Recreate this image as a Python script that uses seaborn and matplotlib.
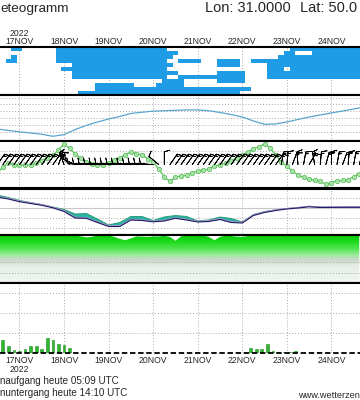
import numpy as np
import pandas as pd
import matplotlib
matplotlib.use("Agg")
import matplotlib.pyplot as plt
import seaborn as sns
from matplotlib.colors import LinearSegmentedColormap, ListedColormap
from matplotlib import font_manager

sns.set_theme(style="white")
_avail = {f.name for f in font_manager.fontManager.ttflist}
NARROW = "Liberation Sans Narrow" if "Liberation Sans Narrow" in _avail else "Liberation Sans"
plt.rcParams["font.family"] = ["Liberation Sans", "DejaVu Sans"]

# ---------------- data ----------------
day_hours = [0, 24, 48, 72, 96, 120, 144, 168]
day_labels = ["17NOV", "18NOV", "19NOV", "20NOV", "21NOV", "22NOV", "23NOV", "24NOV"]
year_label = "2022"

hours3 = list(range(-12, 184, 3))   # 3-hourly steps, hours after 17NOV 00Z
hours6 = list(range(-12, 187, 6))   # 6-hourly steps

# cloud cover cells (row 0 = top level), inclusive column spans on the 3h grid
cloud_spans = [
    [(3, 4), (11, 30), (53, 65)],
    [(11, 32), (52, 53), (57, 65)],
    [(3, 3), (11, 31), (51, 65)],
    [(2, 3), (11, 30), (33, 36), (40, 43), (46, 65)],
    [(14, 31), (40, 43), (49, 65)],
    [(12, 30), (49, 51), (53, 65)],
    [(14, 32), (40, 44), (49, 65)],
    [(14, 30), (33, 44), (49, 65)],
    [(30, 33), (40, 44)],
    [(18, 24), (29, 33)],
    [(18, 45)],
    [(15, 43)],
]

pressure_hpa = [1007.0, 1005.9, 1004.9, 1004.0, 1003.1, 1001.6, 1002.8, 1006.6, 1009.6, 1012.1,
                1014.3, 1016.2, 1018.4, 1019.3, 1020.1, 1020.4, 1020.7, 1021.0, 1021.0, 1020.4,
                1019.1, 1017.6, 1015.8, 1012.9, 1010.4, 1010.7, 1012.1, 1014.0, 1015.8, 1017.3,
                1018.8, 1020.2, 1021.7, 1023.2]

temp_2m = [-2.7, -1.1, -0.2, -0.6, -0.7, -0.7, -0.7, -0.3, 0.3, 0.9,
           1.6, 2.7, 4.1, 3.1, 1.8, 0.9, 0.0, -0.5, -0.7, -0.6,
           -0.2, 0.5, 0.9, 1.7, 2.3, 1.9, 1.6, 0.7, 0.0, -1.6,
           -3.4, -4.4, -3.4, -3.2, -3.0, -2.5, -2.0, -1.9, -1.6, -0.9,
           -0.7, -0.2, 0.2, 1.0, 1.6, 2.3, 3.0, 3.5, 4.1, 3.2,
           1.6, 0.0, -1.0, -2.0, -3.0, -3.5, -3.9, -4.2, -4.4, -5.1,
           -4.7, -4.3, -4.2, -4.0, -3.3, -2.7]

wind_dir = [35, 35, 35, 35, 35, 35, 35, 35, 35, 35, 35,
            20, 340, 315, 295,
            275, 275, 275, 275, 275, 275, 275, 275, 275, 275, 275, 275, 275, 275,
            310, 0,
            35, 35, 35, 35, 35, 35, 35, 35, 35, 35, 35, 35, 35, 35, 35, 35, 35, 35, 35, 35,
            10, 5, 20, 355, 10, 30, 350, 5, 15, 0, 10, 20, 5, 10, 15]
wind_kt = [15, 15, 15, 15, 15, 15, 15, 15, 15, 15, 15,
           15, 15, 15, 15,
           10, 10, 10, 10, 10, 10, 10, 10, 10, 10, 10, 10, 10, 10,
           10, 10,
           15, 15, 15, 15, 15, 15, 15, 15, 15, 15, 15, 15, 15, 15, 15, 15, 15, 15, 15, 15,
           15, 15, 15, 15, 15, 15, 15, 15, 15, 15, 15, 15, 15, 15, 15]

t850_main = [5.65, 4.65, 3.3, 2.4, 1.5, 0.25, -1.6, -4.85, -5.0, -7.1,
             -9.1, -9.1, -5.85, -6.1, -6.75, -6.35, -5.0, -5.85, -6.85, -6.6,
             -5.6, -7.1, -7.35, -3.6, -2.1, -1.1, -0.35, 0.15, 0.75, 0.4,
             0.45, 0.5, 0.5, 0.5]
t850_second = [5.9, 4.9, 3.6, 2.7, 1.8, 0.5, -1.3, -4.6, -4.8, -6.8,
               -8.8, -8.8, -5.6, -5.9, -6.5, -6.1, -4.8, -5.6, -6.6, -6.3,
               -5.3, -6.8, -7.1, -3.3, -1.8, -0.8, -0.1, 0.4, 1.0, 0.6,
               0.7, 0.7, 0.7, 0.7]
t850_upper = [6.65, 5.4, 3.9, 2.9, 1.9, 0.65, -0.6, -2.85, -2.6, -5.35,
              -8.35, -7.1, -4.1, -4.1, -6.1, -4.35, -3.6, -4.1, -6.35, -5.85,
              -4.35, -5.1, -6.85, -3.1, -1.6, -0.75, -0.1, 0.4, 1.0, 0.65,
              0.65, 0.65, 0.65, 0.65]

humidity = [100, 100, 100, 100, 100, 100, 100, 99.5, 100, 100,
            100, 99, 100, 100, 99, 97, 95, 96, 99, 100,
            99, 96, 92, 89, 93, 97, 96.5, 96, 97, 97,
            98, 96, 88, 97, 100, 100, 100, 99, 96, 89,
            96, 99, 98, 96.5, 96, 98, 100, 100, 100, 100,
            100, 100, 100, 100, 100, 100, 100, 100, 100, 100,
            100, 100, 100, 100, 100, 100]

precip_hours = [-9, -6, -3, 0, 3, 6, 9, 12, 15, 18, 21, 24, 27,
                121.5, 124.5, 127.5, 130.5, 133.5, 136.5, 139.5, 142.5, 145.5, 148.5, 161.5]
precip_mm = [0.65, 0.32, 0.12, 0.07, 0.2, 0.32, 0.32, 0.2, 0.75, 0.65, 0.42, 0.37, 0.25,
             0.05, 0.25, 0.17, 0.18, 0.43, 0.07, 0.04, 0.03, 0.03, 0.07, 0.02]

title_left = "eteogramm"
title_lon = "Lon: 31.0000"
title_lat = "Lat: 50.0"
sun_rise = "naufgang heute 05:09 UTC"
sun_set = "nuntergang heute 14:10 UTC"
site = "www.wetterzen"

# ---------------- layout ----------------
W, H = 360, 400
XMIN, XMAX = -10.5, 183.4
GRID = "#a8a8a8"
DOT = (0, (1, 2))

fig = plt.figure(figsize=(3.6, 4.0), dpi=100)
fig.patch.set_facecolor("white")


def panel(top, bottom):
    return fig.add_axes([0, 1 - bottom / H, 1, (bottom - top) / H])


def style(ax, hlines=()):
    ax.set_xlim(XMIN, XMAX)
    ax.set_xlabel("")
    ax.set_ylabel("")
    ax.set_yticks([])
    ax.set_xticks([])
    for s in ("left", "right"):
        ax.spines[s].set_visible(False)
    for s in ("top", "bottom"):
        ax.spines[s].set_color("black")
        ax.spines[s].set_linewidth(1.5)
    for h in day_hours:
        ax.axvline(h, color=GRID, ls=DOT, lw=0.7, zorder=0.5)
    for v in hlines:
        ax.axhline(v, color=GRID, ls=DOT, lw=0.7, zorder=0.5)


ax1 = panel(47, 94.5)
ax2 = panel(94.5, 140.5)
ax3 = panel(140.5, 188.5)
ax4 = panel(188.5, 234.5)
ax5 = panel(234.5, 283)
ax6 = panel(283, 352.5)

# ---- panel 1: clouds ----
mask = np.zeros((12, len(hours3)))
for r, spans in enumerate(cloud_spans):
    for a, b in spans:
        mask[r, a:b + 1] = 1
xe = np.arange(hours3[0] - 1.5, hours3[-1] + 1.6, 3)
ax1.pcolormesh(xe, np.arange(13), np.ma.masked_equal(mask, 0),
               cmap=ListedColormap(["#1f9ce6"]), vmin=0, vmax=1, zorder=1)
style(ax1)
ax1.set_ylim(12, 0)
ax1.xaxis.set_ticks_position("top")
ax1.set_xticks(day_hours)
ax1.set_xticklabels([year_label + "\n" + day_labels[0]] + day_labels[1:],
                    fontsize=6.2, family=[NARROW, "DejaVu Sans"], linespacing=0.95)
ax1.tick_params(axis="x", length=0, pad=0.6, labeltop=True, labelbottom=False)

# ---- panel 2: pressure ----
sns.lineplot(x=hours6, y=pressure_hpa, ax=ax2, color="#5aa5cc", lw=0.9, legend=False)
style(ax2, hlines=[1005, 1010, 1015, 1020, 1025, 1030])
ax2.set_ylim(998.5, 1032.35)

# ---- panel 3: temperature + wind barbs ----
sns.lineplot(x=hours3, y=temp_2m, ax=ax3, color="#66cc66", lw=1.0, marker="o",
             markersize=3.2, markerfacecolor="#a8e2a8", markeredgecolor="#55bb55",
             markeredgewidth=0.5, legend=False, zorder=2)
d = np.deg2rad(wind_dir)
s = np.array(wind_kt, dtype=float)
u = -s * np.sin(d)
v = -s * np.cos(d)
ax3.barbs(hours3, np.full(len(hours3), -0.6), u, v, length=4.3, linewidth=0.6,
          color="black", zorder=3, sizes=dict(spacing=0.15, height=0.42, width=0.25))
style(ax3, hlines=[-2.5, 0, 2.5])
ax3.set_ylim(-6.02, 4.89)

# ---- panel 4: ensemble band ----
ax4.fill_between(hours6, t850_main, t850_upper, color="#2bb3a3", lw=0, zorder=1)
sns.lineplot(x=hours6, y=t850_upper, ax=ax4, color="#2a9c78", lw=0.7, legend=False, zorder=2)
sns.lineplot(x=hours6, y=t850_second, ax=ax4, color="#c89ad6", lw=0.9, legend=False, zorder=3)
sns.lineplot(x=hours6, y=t850_main, ax=ax4, color="#1c1c66", lw=0.8, legend=False, zorder=4)
style(ax4, hlines=[5, -5, -10])
ax4.axhline(0, color="#c8c8c8", lw=0.8, zorder=0.6)
ax4.set_ylim(-13.1, 9.9)

# ---- panel 5: humidity gradient ----
style(ax5)
ax5.set_ylim(0, 101)
poly = ax5.fill_between(hours3, 0, humidity, color="none", lw=0)
cmap5 = LinearSegmentedColormap.from_list("rh", [
    (0.0, "#f0f6f0"), (0.35, "#e6eee6"), (0.433, "#d4ded4"), (0.495, "#c4d8c4"),
    (0.557, "#a4eca4"), (0.68, "#5ce65c"), (0.825, "#22dc22"), (1.0, "#00c800")])
grad = np.linspace(0, 1, 256).reshape(-1, 1)
img = ax5.imshow(grad, extent=[XMIN, XMAX, 0, 101], origin="lower", aspect="auto",
                 cmap=cmap5, vmin=0, vmax=1, zorder=1)
img.set_clip_path(poly.get_paths()[0], transform=ax5.transData)
for yv in (20, 44):
    ax5.axhline(yv, color=GRID, ls=DOT, lw=0.7, zorder=2)

# ---- panel 6: precipitation ----
pr = pd.DataFrame({"h": precip_hours, "mm": precip_mm})
sns.barplot(data=pr, x="h", y="mm", native_scale=True, width=0.5, color="#2fb52f",
            edgecolor="#1f8f1f", linewidth=0.4, errorbar=None, saturation=1, ax=ax6, zorder=2)
style(ax6, hlines=[1, 2, 3])
ax6.set_ylim(0, 3.475)
ax6.spines["bottom"].set_visible(False)
ax6.axhline(0, color="black", lw=1.3, ls=(0, (3, 1.5)), zorder=3, clip_on=False)
ax6.set_xticks(day_hours)
ax6.set_xticklabels([day_labels[0] + "\n" + year_label] + day_labels[1:],
                    fontsize=6.2, family=[NARROW, "DejaVu Sans"], linespacing=0.95)
ax6.tick_params(axis="x", length=0, pad=2.5, labelbottom=True)

# ---- texts ----
fig.text(0.5 / W, 1 - 12 / H, title_left, ha="left", va="baseline", fontsize=9.7)
fig.text(205 / W, 1 - 12 / H, title_lon, ha="left", va="baseline", fontsize=10.5)
fig.text(300 / W, 1 - 12 / H, title_lat, ha="left", va="baseline", fontsize=10.5)
fig.text(0.5 / W, 1 - 384 / H, sun_rise, ha="left", va="baseline", fontsize=7.1)
fig.text(0.5 / W, 1 - 396 / H, sun_set, ha="left", va="baseline", fontsize=7.1)
fig.text(298 / W, 1 - 398.5 / H, site, ha="left", va="baseline", fontsize=6.6)

fig.savefig("out.png", dpi=100)
